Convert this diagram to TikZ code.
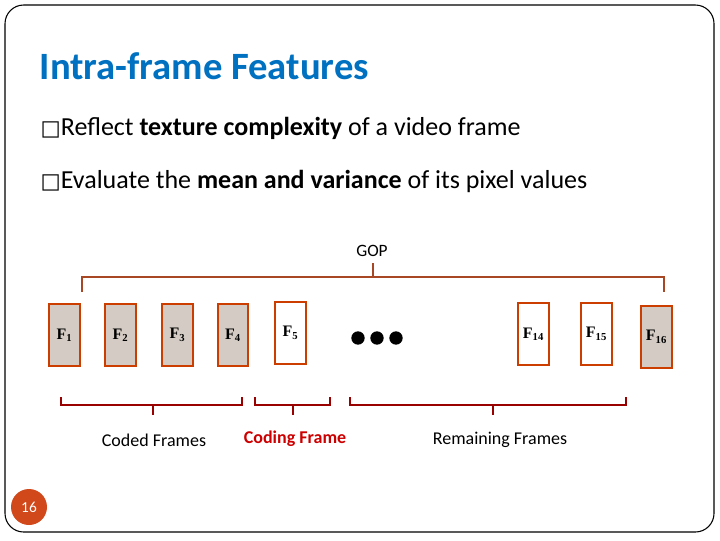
\documentclass[tikz,border=0pt]{standalone}
\usepackage{fontspec}
\setmainfont{Carlito}
\newfontfamily\djv{DejaVu Sans}
\newfontfamily\serf{Liberation Serif}
\begin{document}
\begin{tikzpicture}[x=0.75pt,y=-0.75pt,
  fr/.style={draw=orange!60!red!80!black,line width=1.3pt,minimum width=23pt,minimum height=47pt,inner sep=0pt,font=\serf\bfseries\fontsize{12}{13}\selectfont},
  fill1/.style={fill=brown!30!gray!40},
  br/.style={draw=red!60!black,line width=1.6pt},
  dot/.style={circle,fill=black,minimum size=10pt,inner sep=0pt}]
\useasboundingbox (0,0) rectangle (720,540);
\draw[line width=0.8pt,rounded corners=14pt] (5,5) rectangle (714,532);
\node[anchor=west,text={rgb,255:red,0;green,112;blue,192},font=\bfseries\fontsize{29}{32}\selectfont] (title) at (35,66) {Intra-frame Features};
\node[anchor=west,font=\fontsize{19.5}{22}\selectfont] (b1) at (36,128) {{\djv\fontsize{16}{16}\selectfont □}Reflect \textbf{texture complexity} of a video frame};
\node[anchor=west,font=\fontsize{19.5}{22}\selectfont] (b2) at (36,181) {{\djv\fontsize{16}{16}\selectfont □}Evaluate the \textbf{mean and variance} of its pixel values};
\node[font=\fontsize{13}{14}\selectfont] (gop) at (372,251) {GOP};
\node[fr,fill1] (f1) at (64.5,335) {F\textsubscript{1}};
\node[fr,fill1] (f2) at (120.5,335) {F\textsubscript{2}};
\node[fr,fill1] (f3) at (177.5,335) {F\textsubscript{3}};
\node[fr,fill1] (f4) at (233,335) {F\textsubscript{4}};
\node[fr,fill=white] (f5) at (290.5,333) {F\textsubscript{5}};
\node[fr,fill=white] (f14) at (533.5,334) {F\textsubscript{14}};
\node[fr,fill=white] (f15) at (596.5,334) {F\textsubscript{15}};
\node[fr,fill1] (f16) at (656.5,337) {F\textsubscript{16}};
\node[dot] (d1) at (358,338) {};
\node[dot] (d2) at (377,338) {};
\node[dot] (d3) at (396,338) {};
\draw[br,draw=brown!70!red!80!black] (82,292) -- (82,277) -- (664,277) -- (664,292) (373,277) -- (373,263);
\draw[br] (61,397) -- (61,405) -- (242,405) -- (242,397) (153,405) -- (153,415);
\draw[br] (255,397) -- (255,405) -- (330,405) -- (330,397) (293,405) -- (293,415);
\draw[br] (350,397) -- (350,405) -- (626,405) -- (626,397) (493,405) -- (493,415);
\node[font=\fontsize{13.5}{14}\selectfont] (l1) at (154,440) {Coded Frames};
\node[font=\bfseries\fontsize{13.5}{14}\selectfont,text=red!80!black] (l2) at (295,439) {Coding Frame};
\node[font=\fontsize{13.5}{14}\selectfont] (l3) at (500,440) {Remaining Frames};
\node[circle,fill={rgb,255:red,209;green,72;blue,26},minimum size=27pt,inner sep=0pt,text=white,font=\fontsize{11.5}{12}\selectfont] (pg) at (29,507) {16};
\end{tikzpicture}
\end{document}
